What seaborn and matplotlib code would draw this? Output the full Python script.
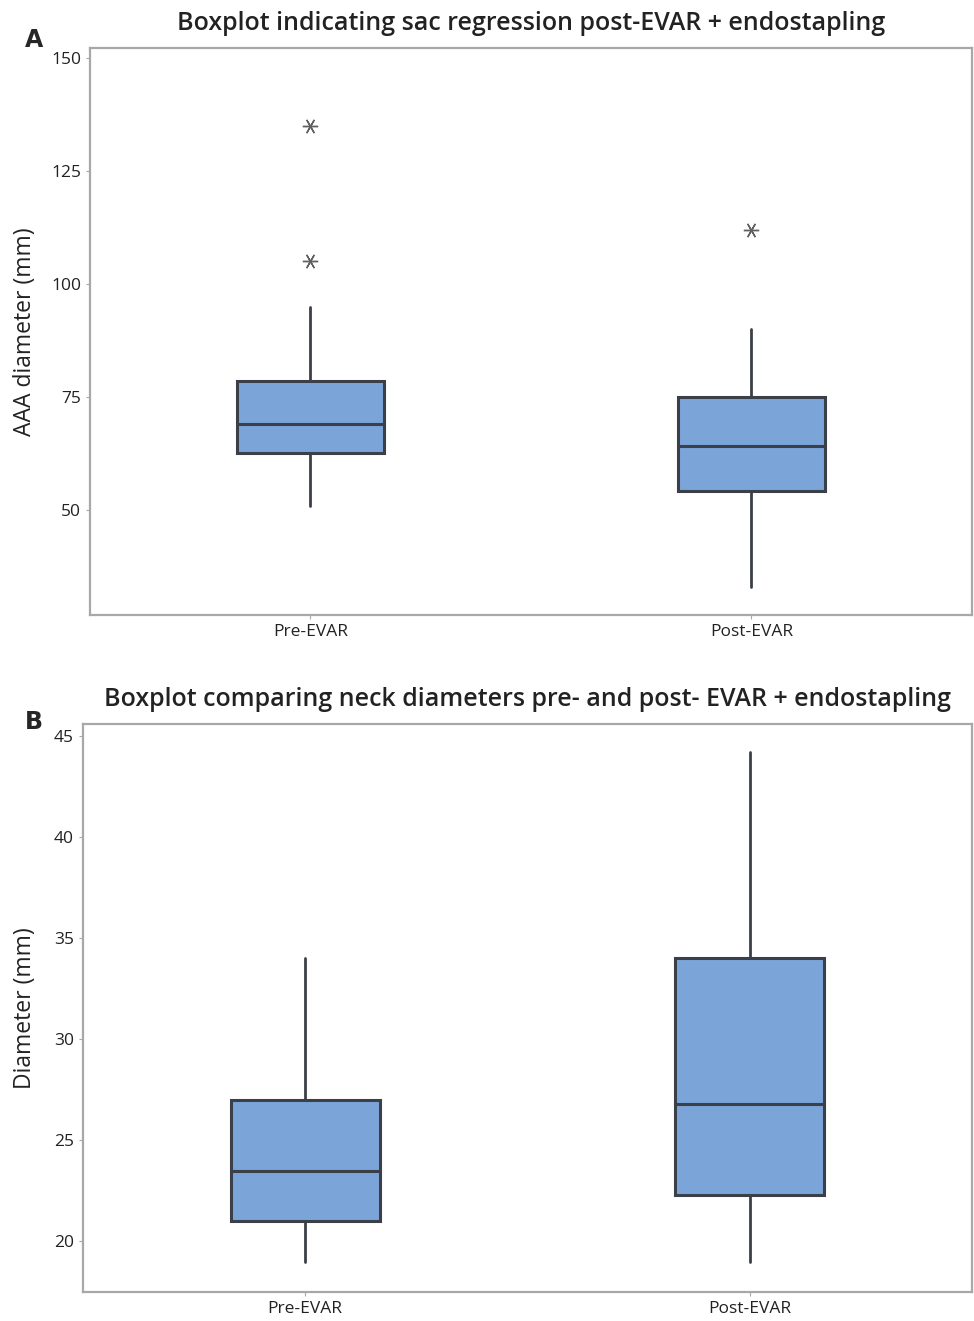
import matplotlib
matplotlib.use("Agg")
import matplotlib.pyplot as plt
import seaborn as sns

# groups
groups = ["Pre-EVAR", "Post-EVAR"]

# panel A: AAA diameter (mm), five-number summaries
sac_whislo = [51, 33]
sac_q1 = [62.6, 54.2]
sac_med = [69, 64.2]
sac_q3 = [78.5, 75]
sac_whishi = [95, 90]
sac_fliers = [[105, 135], [112]]

# panel B: neck diameter (mm)
neck_whislo = [19, 19]
neck_q1 = [21, 22.3]
neck_med = [23.5, 26.8]
neck_q3 = [27, 34]
neck_whishi = [34, 44.2]
neck_fliers = [[], []]

sns.set_theme(style="white")
plt.rcParams["font.family"] = ["Open Sans", "DejaVu Sans"]

box_fill = "#7ba4d9"
edge = "#3b4048"
spine_col = "#a8a8a8"


def stats(lo, q1, med, q3, hi, fl):
    out = []
    for i in range(len(groups)):
        out.append(dict(label=groups[i], whislo=lo[i], q1=q1[i], med=med[i],
                        q3=q3[i], whishi=hi[i], fliers=fl[i]))
    return out


def draw(ax, st, ylim, yticks, ylabel, title, label_x):
    ax.bxp(st, positions=range(len(groups)), widths=0.335, patch_artist=True,
           showcaps=False,
           boxprops=dict(facecolor=box_fill, edgecolor=edge, linewidth=2.2),
           medianprops=dict(color=edge, linewidth=2.2),
           whiskerprops=dict(color=edge, linewidth=2.0),
           flierprops=dict(marker=(6, 2, 90), markersize=11, markeredgecolor="#606060",
                           markerfacecolor="#606060", markeredgewidth=1.0, linestyle="none"))
    ax.set_xlim(-0.5, 1.5)
    ax.set_ylim(*ylim)
    ax.set_yticks(yticks)
    ax.set_xticks(range(len(groups)))
    ax.set_xticklabels(groups, fontsize=12.5, color="#222222")
    ax.tick_params(axis="y", labelsize=12.5, labelcolor="#222222")
    ax.tick_params(axis="both", direction="out", length=3, width=0.8, color=spine_col,
                   left=True, bottom=True)
    for s in ax.spines.values():
        s.set_color(spine_col)
        s.set_linewidth(1.6)
        s.set_visible(True)
    ax.set_ylabel(ylabel, fontsize=16.5, color="#222222")
    ax.yaxis.set_label_coords(label_x, 0.5)
    ax.set_title(title, fontsize=18, color="#222222", fontweight="semibold", pad=13)


fig = plt.figure(figsize=(9.74, 13.21), dpi=100)
ax1 = fig.add_axes([0.0924, 0.5344, 0.9055, 0.4293])
ax2 = fig.add_axes([0.0852, 0.0220, 0.9127, 0.4300])

draw(ax1, stats(sac_whislo, sac_q1, sac_med, sac_q3, sac_whishi, sac_fliers),
     (26.8, 152.2), [50, 75, 100, 125, 150], "AAA diameter (mm)",
     "Boxplot indicating sac regression post-EVAR + endostapling", -0.060)
draw(ax2, stats(neck_whislo, neck_q1, neck_med, neck_q3, neck_whishi, neck_fliers),
     (17.5, 45.6), [20, 25, 30, 35, 40, 45], "Diameter (mm)",
     "Boxplot comparing neck diameters pre- and post- EVAR + endostapling", -0.052)

fig.text(25 / 974, 1 - 40 / 1321, "A", fontsize=17, fontweight="bold", family="DejaVu Sans",
         va="center", ha="left")
fig.text(25 / 974, 1 - 722 / 1321, "B", fontsize=17, fontweight="bold", family="DejaVu Sans",
         va="center", ha="left")

fig.savefig("out.png", dpi=100)
